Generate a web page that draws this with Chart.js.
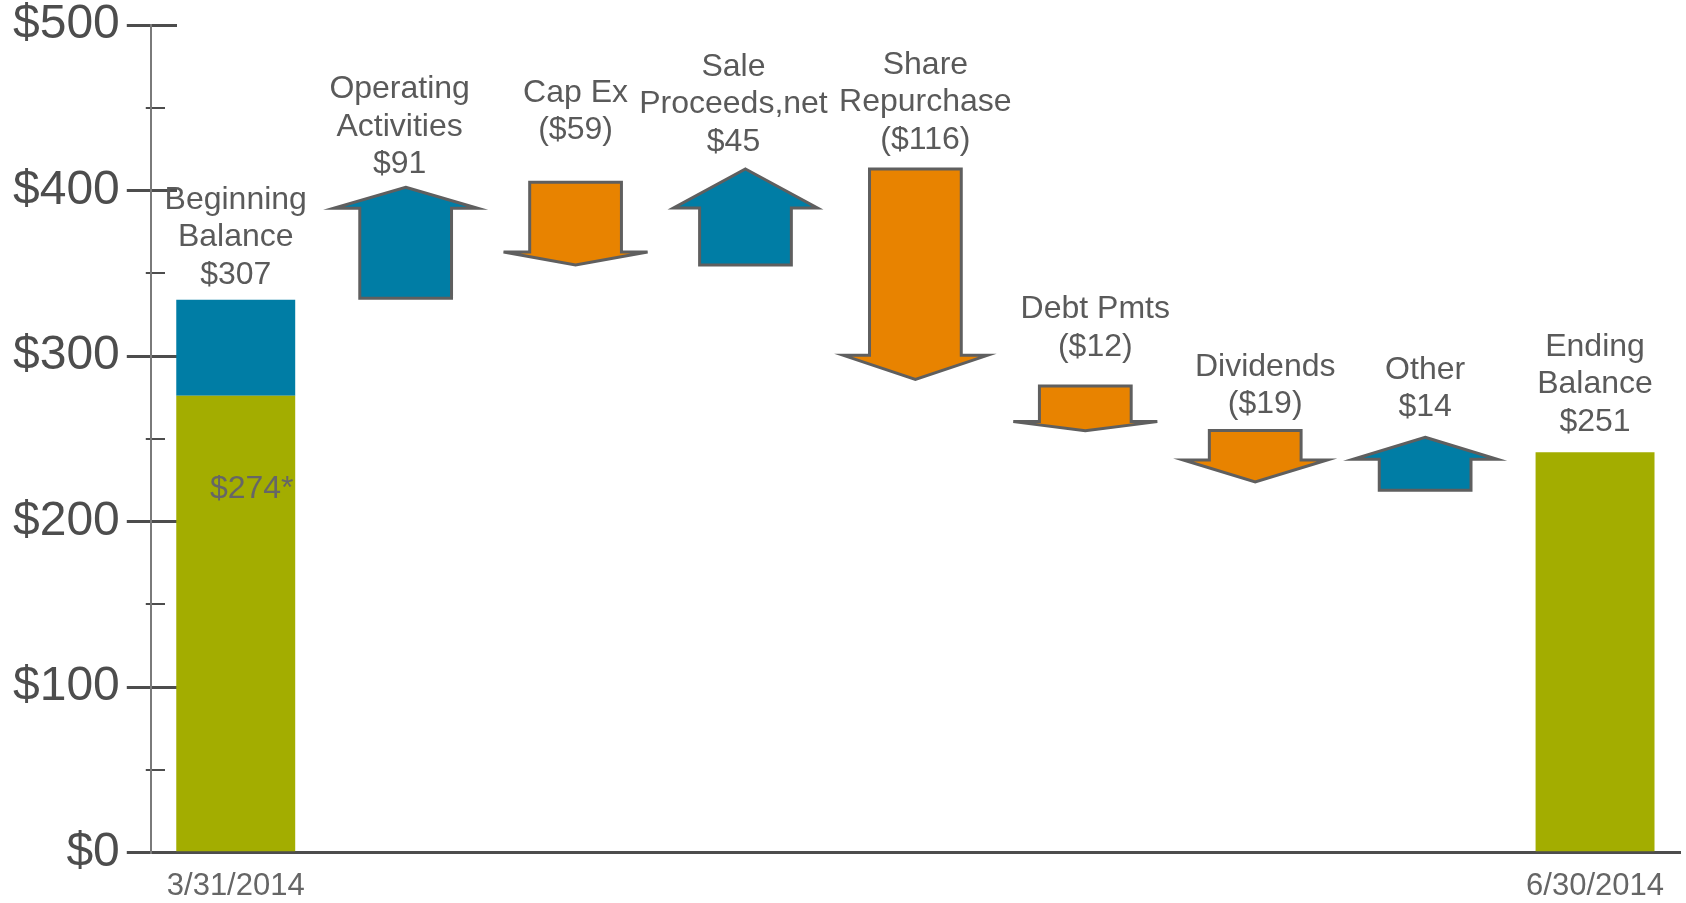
<!DOCTYPE html>
<html>
<head>
<meta charset="utf-8">
<script src="https://cdn.jsdelivr.net/npm/chart.js@4/dist/chart.umd.min.js"></script>
<style>
    html, body { margin: 0; padding: 0; background: #fff; }
    #wrap { width: 1686px; height: 903px; position: relative; }
</style>
</head>
<body>
<div id="wrap"><canvas id="cashChart"></canvas></div>
<script>
// Step names (one entry per text line) and the amounts printed under them
const categories = [
    ['Beginning', 'Balance'], ['Operating', 'Activities'], ['Cap Ex'], ['Sale', 'Proceeds,net'],
    ['Share', 'Repurchase'], ['Debt Pmts'], ['Dividends'], ['Other'], ['Ending', 'Balance']
];
const amountLabels = ['$307', '$91', '($59)', '$45', '($116)', '($12)', '($19)', '$14', '$251'];
const dateLabels = ['3/31/2014', '', '', '', '', '', '', '', '6/30/2014'];
const footnoteLabel = '$274*';

// Heights as drawn on the slide, read against the $ axis
const balanceValues = [276, null, null, null, null, null, null, null, 242];
const beginningTop = [[276, 334], null, null, null, null, null, null, null, null];
// each flow goes [from, to]
const flowValues = [null, [335, 402], [405, 355], [355, 413], [413, 286], [282, 255], [255, 224], [219, 251], null];

// arrow head length in px, gap between label block and mark, small sideways nudge of labels
const headLengths = [0, 21, 13, 39, 24, 9, 22, 22, 0];
const labelGaps = [25, 23, 52, 27, 29, 39, 26, 30, 30];
const labelShift = [0, -6, 0, -12, 10, 10, 10, 0, 0];

const BLUE = '#007DA5';
const ORANGE = '#E88300';
const GREEN = '#A3AD00';
const FONT = '"Liberation Sans", Arial, sans-serif';

const flowArrows = {
    id: 'flowArrows',
    afterDatasetsDraw(chart) {
        const ctx = chart.ctx;
        const meta = chart.getDatasetMeta(2);
        ctx.save();
        meta.data.forEach((bar, i) => {
            const raw = flowValues[i];
            if (!raw) return;
            const p = bar.getProps(['x', 'y', 'base', 'width'], true);
            const top = Math.min(p.y, p.base);
            const bottom = Math.max(p.y, p.base);
            const up = raw[1] > raw[0];
            const half = p.width / 2;
            const wing = p.width * 1.57 / 2;
            const head = headLengths[i];
            const x = p.x;
            ctx.beginPath();
            if (up) {
                ctx.moveTo(x, top);
                ctx.lineTo(x + wing, top + head);
                ctx.lineTo(x + half, top + head);
                ctx.lineTo(x + half, bottom);
                ctx.lineTo(x - half, bottom);
                ctx.lineTo(x - half, top + head);
                ctx.lineTo(x - wing, top + head);
            } else {
                ctx.moveTo(x - half, top);
                ctx.lineTo(x + half, top);
                ctx.lineTo(x + half, bottom - head);
                ctx.lineTo(x + wing, bottom - head);
                ctx.lineTo(x, bottom);
                ctx.lineTo(x - wing, bottom - head);
                ctx.lineTo(x - half, bottom - head);
            }
            ctx.closePath();
            ctx.fillStyle = up ? BLUE : ORANGE;
            ctx.fill();
            ctx.lineWidth = 3;
            ctx.lineJoin = 'miter';
            ctx.strokeStyle = '#5f5f5f';
            ctx.stroke();
        });
        ctx.restore();
    }
};

const stepLabels = {
    id: 'stepLabels',
    afterDatasetsDraw(chart) {
        const ctx = chart.ctx;
        const lineStep = 37.5;
        ctx.save();
        ctx.font = '32px ' + FONT;
        ctx.textAlign = 'center';
        ctx.textBaseline = 'middle';
        ctx.fillStyle = '#5a5a5a';
        categories.forEach((lines, i) => {
            let x = null;
            let top = Infinity;
            chart.data.datasets.forEach((ds, d) => {
                if (ds.data[i] == null) return;
                const el = chart.getDatasetMeta(d).data[i];
                x = el.x;
                top = Math.min(top, el.y, el.base);
            });
            if (x === null) return;
            const all = lines.concat(amountLabels[i]);
            const lastY = top - labelGaps[i];
            all.forEach((t, k) => {
                ctx.fillText(t, x + labelShift[i], lastY - (all.length - 1 - k) * lineStep);
            });
        });
        // footnote amount inside the green bar
        const g = chart.getDatasetMeta(0).data[0];
        ctx.fillStyle = '#666666';
        ctx.fillText(footnoteLabel, g.x + 16, g.y + 93);
        ctx.restore();
    }
};

const isMajor = (c) => c.tick && c.tick.value % 100 === 0;

document.addEventListener('DOMContentLoaded', function () {
    const ctx = document.getElementById('cashChart').getContext('2d');

    new Chart(ctx, {
        type: 'bar',
        data: {
            labels: categories.map(c => c.join(' ')),
            datasets: [
                {
                    label: 'Balance',
                    data: balanceValues,
                    backgroundColor: GREEN,
                    grouped: false,
                    categoryPercentage: 1,
                    barPercentage: 0.70
                },
                {
                    label: 'Beginning top',
                    data: beginningTop,
                    backgroundColor: BLUE,
                    grouped: false,
                    categoryPercentage: 1,
                    barPercentage: 0.70
                },
                {
                    label: 'Flows',
                    data: flowValues,
                    backgroundColor: 'rgba(0,0,0,0)',
                    borderWidth: 0,
                    grouped: false,
                    categoryPercentage: 1,
                    barPercentage: 0.54
                }
            ]
        },
        options: {
            responsive: true,
            maintainAspectRatio: false,
            animation: false,
            layout: {
                padding: { left: 6, right: 6, top: 0, bottom: -17 }
            },
            scales: {
                x: {
                    offset: true,
                    grid: { display: false, drawTicks: false },
                    border: { display: true, color: '#4d4d4d', width: 3 },
                    ticks: {
                        autoSkip: false,
                        maxRotation: 0,
                        padding: 15,
                        color: '#666666',
                        font: { family: FONT, size: 31, lineHeight: 1.2 },
                        callback: function (value, index) {
                            return dateLabels[index];
                        }
                    }
                },
                y: {
                    min: 0,
                    max: 500,
                    ticks: {
                        stepSize: 50,
                        padding: 7,
                        color: '#4d4d4d',
                        font: { family: FONT, size: 48, lineHeight: 0.75 },
                        callback: function (value) {
                            return value % 100 === 0 ? '$' + value : '';
                        }
                    },
                    grid: {
                        color: '#4d4d4d',
                        lineWidth: c => isMajor(c) ? 3 : 2,
                        tickWidth: c => isMajor(c) ? 3 : 2,
                        tickLength: 24,
                        tickBorderDash: c => isMajor(c) ? [] : [0, 19, 5, 1000]
                    },
                    border: {
                        display: true,
                        color: '#7a7a7a',
                        width: 2,
                        dash: c => (c.tick ? (isMajor(c) ? [25, 4000] : [13, 4000]) : [])
                    }
                }
            },
            plugins: {
                legend: { display: false },
                tooltip: { enabled: false }
            }
        },
        plugins: [flowArrows, stepLabels]
    });
});
</script>
</body>
</html>
